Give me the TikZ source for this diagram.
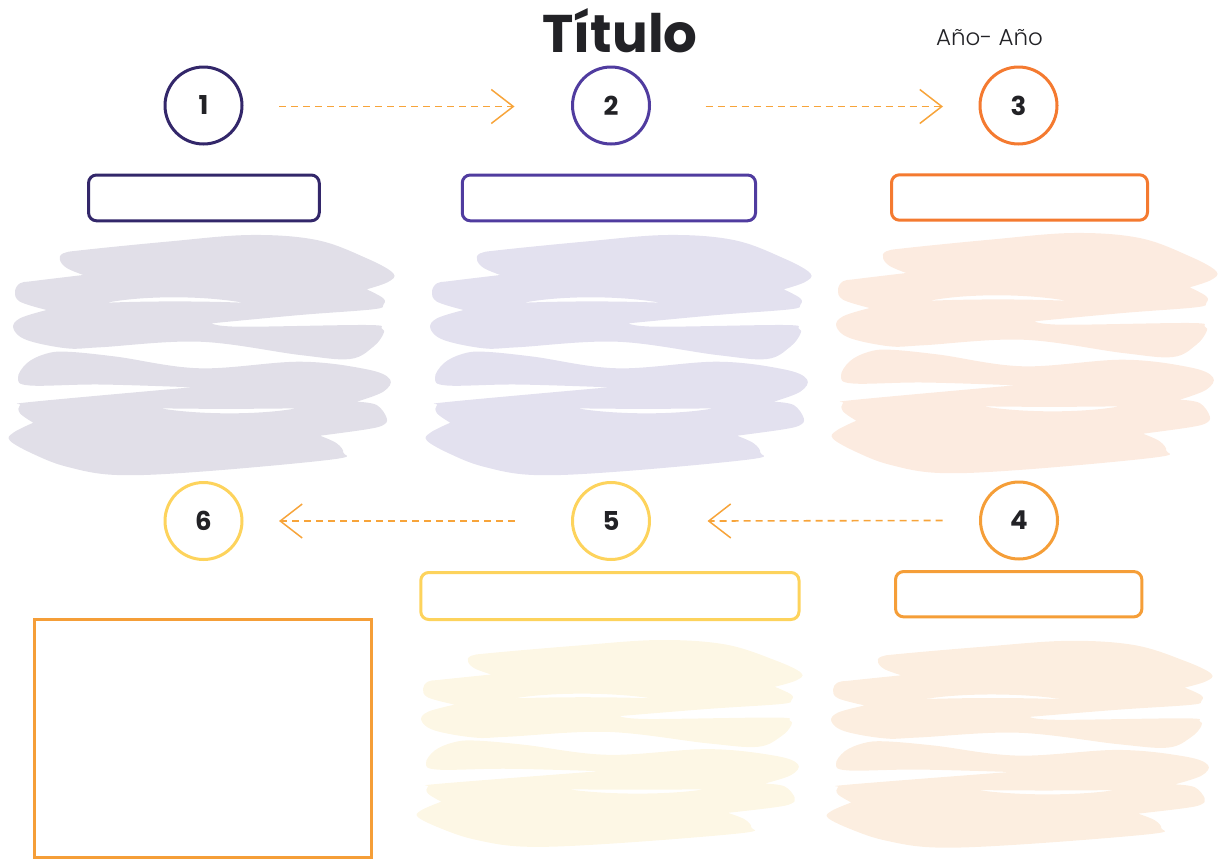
\documentclass[tikz,border=0pt]{standalone}
\usepackage{fontspec}
\setmainfont{Poppins}
\newfontfamily\lightfont{Poppins Light}
\usetikzlibrary{arrows.meta}
\definecolor{cA}{HTML}{33276A}
\definecolor{cB}{HTML}{503C9F}
\definecolor{cC}{HTML}{F47A30}
\definecolor{cD}{HTML}{F59E38}
\definecolor{cE}{HTML}{FDD35C}
\definecolor{arrc}{HTML}{F7A43A}
\definecolor{numc}{HTML}{222226}
\definecolor{bA}{HTML}{E1DFE8}
\definecolor{bB}{HTML}{E3E1EF}
\definecolor{bC}{HTML}{FCEBE0}
\definecolor{bD}{HTML}{FCEEE0}
\definecolor{bE}{HTML}{FDF7E5}
\tikzset{
  numcirc/.style={circle, draw=#1, line width=3pt, minimum size=77pt, inner sep=0pt,
    text=numc, font=\bfseries\fontsize{26}{28}\selectfont},
  labbox/.style={draw=#1, line width=3pt, rounded corners=8pt, inner sep=0pt},
  arr/.style={draw=arrc, line width=1.6pt, dash pattern=on 7pt off 5pt,
    -{Straight Barb[length=22pt,width=34pt,line width=1.5pt]}},
  pics/blob/.style={code={
    \fill[#1, even odd rule]
      plot[smooth,tension=0.6] coordinates {(83.3,275) (66.7,268) (60,260) (63.3,253.3) (83.3,250) (166.7,241.7) (250,235) (316.7,240) (366.7,258.3) (393.3,273.3) (388,282) (366.7,289.3)}
      -- plot[smooth,tension=0.6] coordinates {(366.7,289.3) (383.3,298.3) (383.3,305) (373,309.3) (300,315) (211.7,323.3)}
      -- plot[smooth,tension=0.6] coordinates {(211.7,323.3) (240,326.7) (366.7,325) (381.7,328.3) (383.3,334) (373.3,346.7) (350,359) (300,355) (200,341.7) (100,347.3) (66.7,348.3) (26.7,340) (13.3,328.3) (20,318.3) (46.7,310)}
      -- plot[smooth,tension=0.6] coordinates {(46.7,310) (20,301.7) (15,291.7) (20,283.3) (33.3,281) (83.3,275)}
      -- cycle
      (106.7,302.7) .. controls (140,296) and (200,295) .. (243.3,302.7) .. controls (200,301) and (150,301) .. cycle
      plot[smooth,tension=0.6] coordinates {(191.7,387.3) (100,384.5) (30,385.5) (18,378) (26.7,363.3) (45,354) (66.7,351.7) (116.7,356.7) (200,368.3) (300,361.7) (366.7,369.3) (390,379.3) (383.3,391.7) (356.7,401.7)}
      -- plot[smooth,tension=0.6] coordinates {(356.7,401.7) (376.7,405) (386.7,418) (383.3,425) (366.7,429.3) (320,435.7)}
      -- plot[smooth,tension=0.6] coordinates {(320,435.7) (336.7,443.3) (343.3,452.7) (333.3,459.3) (200,471.7) (116.7,475) (66.7,466.7) (33.3,454) (10,440.7) (13.3,432.7) (33.3,422.7)}
      -- plot[smooth,tension=0.6] coordinates {(33.3,422.7) (20,413.3) (20,405) (33.3,401.7) (191.7,387.3)}
      -- cycle
      (160,408.3) .. controls (200,415) and (260,415) .. (296.7,408.3) .. controls (250,409) and (200,409) .. cycle;
  }}
}
\begin{document}
\begin{tikzpicture}[x=1pt,y=-1pt]
\useasboundingbox (0,0) rectangle (1218,860);
% blobs
\pic at (0,0) {blob=bA};
\pic[shift={(417,0)}] at (0,0) {blob=bB};
\pic[shift={(823,-2)}] at (0,0) {blob=bC};
\pic[shift={(408,437.7)}, yscale=0.861] at (0,0) {blob=bE};
\pic[shift={(818,438.5)}, yscale=0.861] at (0,0) {blob=bD};
% title and year
\node[anchor=base, font=\bfseries\fontsize{53}{58}\selectfont, text=numc] (title) at (620,52) {Título};
\node[anchor=base, font=\lightfont\fontsize{23}{26}\selectfont, text=numc] (year) at (989.5,45.5) {Año- Año};
% circles
\node[numcirc=cA] (c1) at (203.5,105.5) {1};
\node[numcirc=cB] (c2) at (611,105.5) {2};
\node[numcirc=cC] (c3) at (1018.5,105.5) {3};
\node[numcirc=cD] (c4) at (1019,520.5) {4};
\node[numcirc=cE] (c5) at (611,521) {5};
\node[numcirc=cE] (c6) at (203.5,521) {6};
% boxes
\node[labbox=cA, minimum width=230.7pt, minimum height=45.8pt] (b1) at (203.9,197.9) {};
\node[labbox=cB, minimum width=293.3pt, minimum height=45.8pt] (b2) at (608.9,197.9) {};
\node[labbox=cC, minimum width=256pt, minimum height=45.4pt] (b3) at (1019.5,197.5) {};
\node[labbox=cD, minimum width=246.3pt, minimum height=45.3pt] (b4) at (1018.7,594.2) {};
\node[labbox=cE, minimum width=378.2pt, minimum height=47pt] (b5) at (609.9,596) {};
\node[draw=cD, line width=3pt, inner sep=0pt, minimum width=337pt, minimum height=238pt] (b6) at (203.3,738.8) {};
% arrows
\draw[arr] ([xshift=35.5pt,yshift=-1pt]c1.east) -- ([xshift=-56.5pt,yshift=-1pt]c2.west);
\draw[arr] ([xshift=54.5pt,yshift=-1pt]c2.east) -- ([xshift=-35.5pt,yshift=-1pt]c3.west);
\draw[arr] ([xshift=-36.5pt]c4.west) -- ([xshift=56.5pt]c5.east);
\draw[arr] ([xshift=-56.5pt]c5.west) -- ([xshift=35.5pt]c6.east);
\end{tikzpicture}
\end{document}
